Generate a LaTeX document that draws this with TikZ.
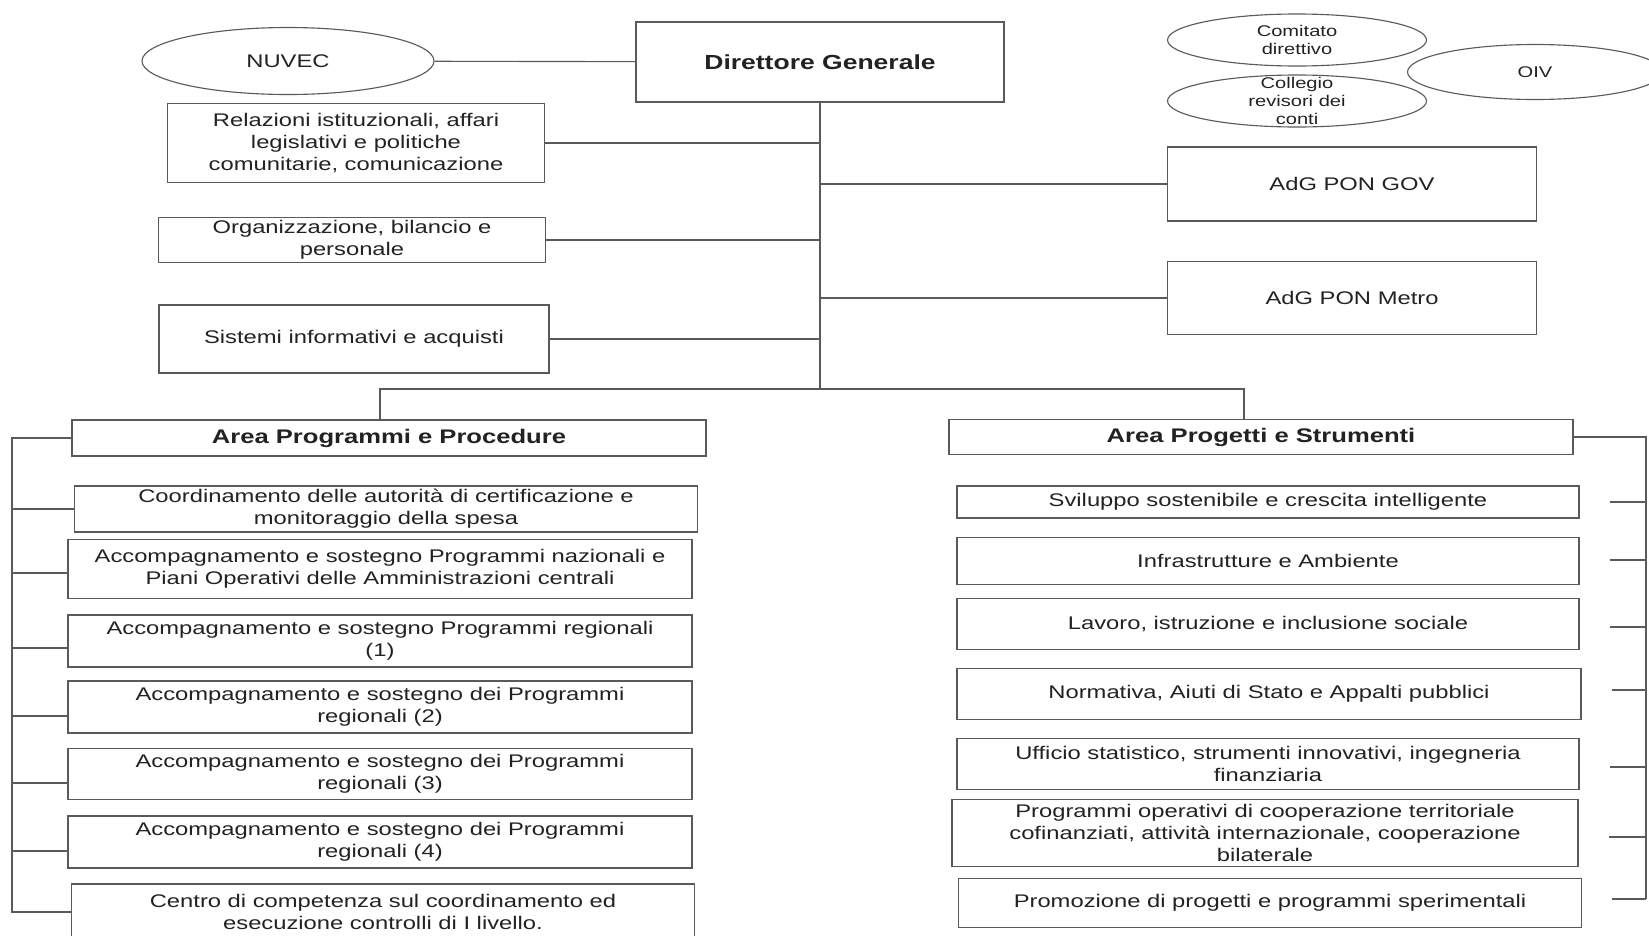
\documentclass[tikz,border=0pt]{standalone}
\usepackage{fontspec}
\setmainfont{Liberation Sans}[FakeStretch=1.3]
\usepackage{xcolor}
\usepackage{tikz}
\usetikzlibrary{positioning,calc,shapes.geometric}

\definecolor{linegray}{HTML}{5A5A5A}
\definecolor{textgray}{HTML}{222222}

\tikzset{
	wh/.style 2 args={minimum width=#1*0.025cm, minimum height=#2*0.025cm},
	box/.style={draw=linegray, line width=0.8pt, rectangle, inner sep=0pt, align=center, text=textgray, font=\fontsize{13}{15.5}\selectfont},
	headbox/.style={box, font=\fontsize{14}{16}\selectfont\bfseries},
	oval/.style={draw=linegray, line width=0.8pt, ellipse, inner sep=0pt, align=center, text=textgray, font=\fontsize{13}{15}\selectfont},
	smalltxt/.style={align=center, text=textgray, font=\fontsize{11}{13}\selectfont},
	link/.style={draw=linegray, line width=0.8pt}
}

\begin{document}
\begin{tikzpicture}[x=0.025cm, y=-0.025cm]
	\useasboundingbox (0,0) rectangle (1649,935);

	% vertice
	\node[headbox, wh={368}{80}, font=\fontsize{14.5}{16}\selectfont\bfseries] (dg) at (820,62) {Direttore Generale};
	\node[oval, wh={292}{67}] (nuvec) at (288,61) {NUVEC};
	\node[oval, wh={259}{52}, label={[smalltxt]center:{Comitato\\direttivo}}] (comitato) at (1297,40) {};
	\node[oval, wh={259}{52}, label={[smalltxt]center:{Collegio\\revisori dei\\conti}}] (collegio) at (1297,101) {};
	\node[oval, wh={255}{55}, font=\fontsize{11}{13}\selectfont] (oiv) at (1535,72) {OIV};

	% uffici di staff
	\node[box, wh={377}{79}] (rel) at (356,143) {Relazioni istituzionali, affari\\legislativi e politiche\\comunitarie, comunicazione};
	\node[box, wh={387}{45}] (org) at (352,240) {Organizzazione, bilancio e\\personale};
	\node[box, wh={390}{68}] (sis) at (354,339) {Sistemi informativi e acquisti};
	\node[box, wh={369}{74}] (gov) at (1352,184) {AdG PON GOV};
	\node[box, wh={369}{73}] (metro) at (1352,298) {AdG PON Metro};

	% aree
	\node[headbox, wh={634}{36}] (app) at (389,438) {Area Programmi e Procedure};
	\node[headbox, wh={624}{35}] (aps) at (1261,437) {Area Progetti e Strumenti};

	% uffici area programmi
	\node[box, wh={623}{46}] (c1) at (386,509) {Coordinamento delle autorità di certificazione e\\monitoraggio della spesa};
	\node[box, wh={624}{59}] (c2) at (380,569) {Accompagnamento e sostegno Programmi nazionali e\\Piani Operativi delle Amministrazioni centrali};
	\node[box, wh={624}{52}] (c3) at (380,641) {Accompagnamento e sostegno Programmi regionali\\(1)};
	\node[box, wh={624}{52}] (c4) at (380,707) {Accompagnamento e sostegno dei Programmi\\regionali (2)};
	\node[box, wh={624}{51}] (c5) at (380,774) {Accompagnamento e sostegno dei Programmi\\regionali (3)};
	\node[box, wh={624}{52}] (c6) at (380,842) {Accompagnamento e sostegno dei Programmi\\regionali (4)};
	\node[box, wh={623}{56}] (c7) at (383,912) {Centro di competenza sul coordinamento ed\\esecuzione controlli di I livello.};

	% uffici area progetti
	\node[box, wh={622}{32}] (s1) at (1268,502) {Sviluppo sostenibile e crescita intelligente};
	\node[box, wh={622}{47}] (s2) at (1268,561) {Infrastrutture e Ambiente};
	\node[box, wh={622}{51}] (s3) at (1268,624) {Lavoro, istruzione e inclusione sociale};
	\node[box, wh={624}{51}] (s4) at (1269,694) {Normativa, Aiuti di Stato e Appalti pubblici};
	\node[box, wh={622}{51}] (s5) at (1268,764) {Ufficio statistico, strumenti innovativi, ingegneria\\finanziaria};
	\node[box, wh={626}{67}] (s6) at (1265,833) {Programmi operativi di cooperazione territoriale\\cofinanziati, attività internazionale, cooperazione\\bilaterale};
	\node[box, wh={623}{49}] (s7) at (1270,903) {Promozione di progetti e programmi sperimentali};

	\coordinate (jl) at (380,389);
	\coordinate (jr) at (1244,389);
	\coordinate (lb) at (12,0);
	\coordinate (rb) at (1646,0);

	% collegamenti
	\draw[link] (nuvec) -- (dg);
	\draw[link] (dg.south) -- (dg.south |- jl);
	\draw[link] (rel.east) -- (rel.east -| dg.south);
	\draw[link] (org.east) -- (org.east -| dg.south);
	\draw[link] (sis.east) -- (sis.east -| dg.south);
	\draw[link] (gov.west -| dg.south) -- (gov.west);
	\draw[link] (metro.west -| dg.south) -- (metro.west);
	\draw[link] (jl |- app.north) -- (jl) -- (jr) -- (jr |- aps.north);

	\draw[link] (app.west) -- (app.west -| lb) -- (c7.west -| lb) -- (c7.west);
	\foreach \n/\d in {c1/0,c2/4,c3/7,c4/9,c5/9,c6/9}
		\draw[link] ($(\n.west)+(0,\d)$) -- ($(\n.west -| lb)+(0,\d)$);

	\draw[link] (aps.east) -- (aps.east -| rb) -- ($(s7.east -| rb)+(0,-4)$);
	\foreach \n/\d in {s1/0,s2/-1,s3/3,s4/-4,s5/3,s6/4,s7/-4}
		\draw[link] ($(\n.east)+(30,\d)$) -- ($(\n.east -| rb)+(0,\d)$);
\end{tikzpicture}
\end{document}
